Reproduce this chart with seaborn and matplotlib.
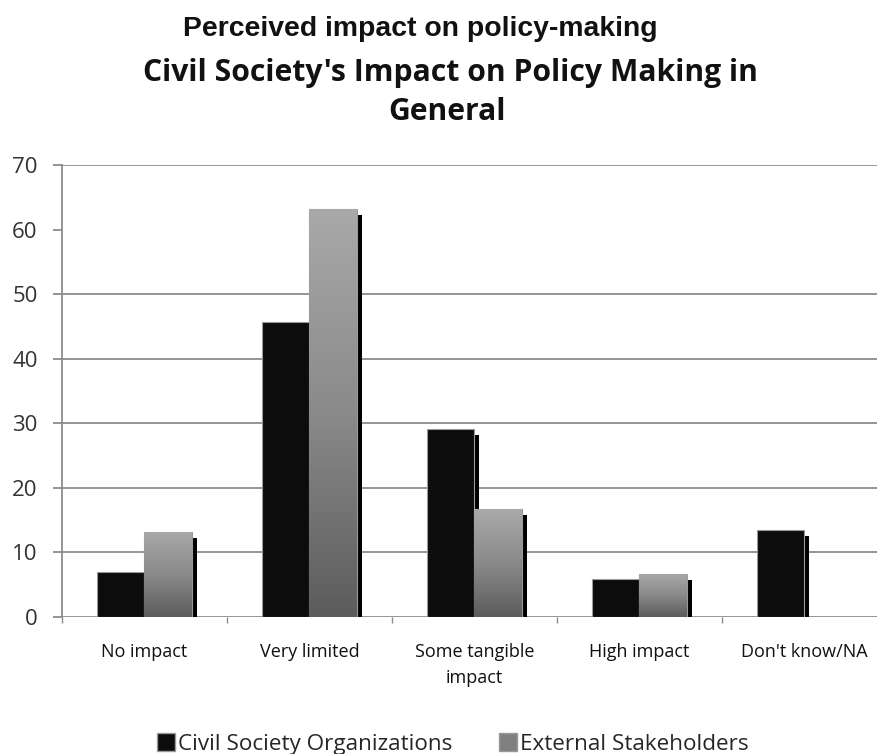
import numpy as np
import pandas as pd
import matplotlib
matplotlib.use("Agg")
import matplotlib.pyplot as plt
import matplotlib.patheffects as pe
from matplotlib.colors import LinearSegmentedColormap
from matplotlib.patches import Patch
import seaborn as sns

# Survey shares (%) per perceived-impact category
categories = ["No impact", "Very limited", "Some tangible\nimpact", "High impact", "Don't know/NA"]
cso_values = [7.0, 45.7, 29.1, 5.9, 13.5]
ext_values = [13.2, 63.2, 16.7, 6.7, 0.0]
series_names = ["Civil Society Organizations", "External Stakeholders"]
y_ticks = [0, 10, 20, 30, 40, 50, 60, 70]

df = pd.DataFrame({
    "category": categories * 2,
    "value": cso_values + ext_values,
    "group": [series_names[0]] * len(categories) + [series_names[1]] * len(categories),
})

sns.set_theme(style="white")
plt.rcParams["font.family"] = ["Open Sans", "DejaVu Sans"]

W, H = 878, 754
fig = plt.figure(figsize=(W / 100, H / 100), dpi=100)
fig.patch.set_facecolor("white")
ax = fig.add_axes([62 / W, (H - 617) / H, 825 / W, 452 / H])

sns.barplot(data=df, x="category", y="value", hue="group",
            palette=["#0c0c0c", "#808080"], width=0.58, ax=ax,
            legend=False, saturation=1, edgecolor="#9a9a9a", linewidth=0.8)

# Drop shadow down-right of each bar (offset in points)
shadow = [pe.SimplePatchShadow(offset=(3.6, -4.3), shadow_rgbFace="black", alpha=1.0), pe.Normal()]
grad_cmap = LinearSegmentedColormap.from_list("es", ["#5c5c5c", "#8a8a8a", "#a9a9a9"])
grad = np.linspace(0, 1, 256).reshape(-1, 1)

n = len(categories)
for i, bar in enumerate(ax.patches):
    h = bar.get_height()
    if h == 0:
        bar.set_visible(False)
        continue
    bar.set_path_effects(shadow)
    if i >= n:
        # vertical grey gradient fill for the external-stakeholder bars
        x0 = bar.get_x()
        im = ax.imshow(grad, extent=[x0, x0 + bar.get_width(), 0, h], origin="lower",
                       aspect="auto", cmap=grad_cmap, zorder=bar.get_zorder() + 0.1)
        im.set_clip_path(bar)

ax.set_xlim(-0.5, n - 0.5)
ax.set_ylim(0, 70)
ax.set_yticks(y_ticks)
ax.set_xlabel("")
ax.set_ylabel("")

# Horizontal gridlines behind the bars
ax.set_axisbelow(True)
ax.yaxis.grid(True, color="#8c8c8c", linewidth=1.3)
ax.xaxis.grid(False)
for tick_val, gl in zip(y_ticks, ax.get_ygridlines()):
    if tick_val == 60:
        gl.set_visible(False)

for side in ["top", "right", "bottom"]:
    ax.spines[side].set_visible(False)
ax.spines["left"].set_color("#8c8c8c")
ax.spines["left"].set_linewidth(1.3)

ax.tick_params(axis="y", which="major", direction="out", length=6.5, width=1.3,
               color="#8c8c8c", left=True, labelsize=16, labelcolor="#333333", pad=11)
ax.tick_params(axis="x", which="major", length=0, labelsize=13, labelcolor="#111111", pad=18.5)
for lbl in ax.get_xticklabels():
    lbl.set_linespacing(1.6)
ax.set_xticks(np.arange(-0.5, n, 1.0), minor=True)
ax.tick_params(axis="x", which="minor", direction="out", length=4.5, width=1.0,
               color="#8c8c8c", bottom=True)

# Titles
fig.text(420 / W, 1 - 36 / H, "Perceived impact on policy-making", ha="center", va="baseline",
         fontsize=20.4, fontweight="bold", family=["Liberation Sans", "DejaVu Sans"], color="#111111")
fig.text(450 / W, 1 - 81 / H, "Civil Society's Impact on Policy Making in", ha="center", va="baseline",
         fontsize=21.7, fontweight="bold", color="#111111")
fig.text(447 / W, 1 - 120 / H, "General", ha="center", va="baseline",
         fontsize=21.7, fontweight="bold", color="#111111")

handles = [Patch(facecolor="#0c0c0c", edgecolor="#9a9a9a"),
           Patch(facecolor="#808080", edgecolor="#9a9a9a")]
fig.legend(handles, series_names, loc="center", bbox_to_anchor=(453 / W, 10 / H), ncol=2,
           frameon=False, fontsize=16.2, handlelength=0.8, handleheight=0.8,
           handletextpad=0.15, columnspacing=2.05, borderpad=0)

fig.savefig("out.png", dpi=100, facecolor="white")
